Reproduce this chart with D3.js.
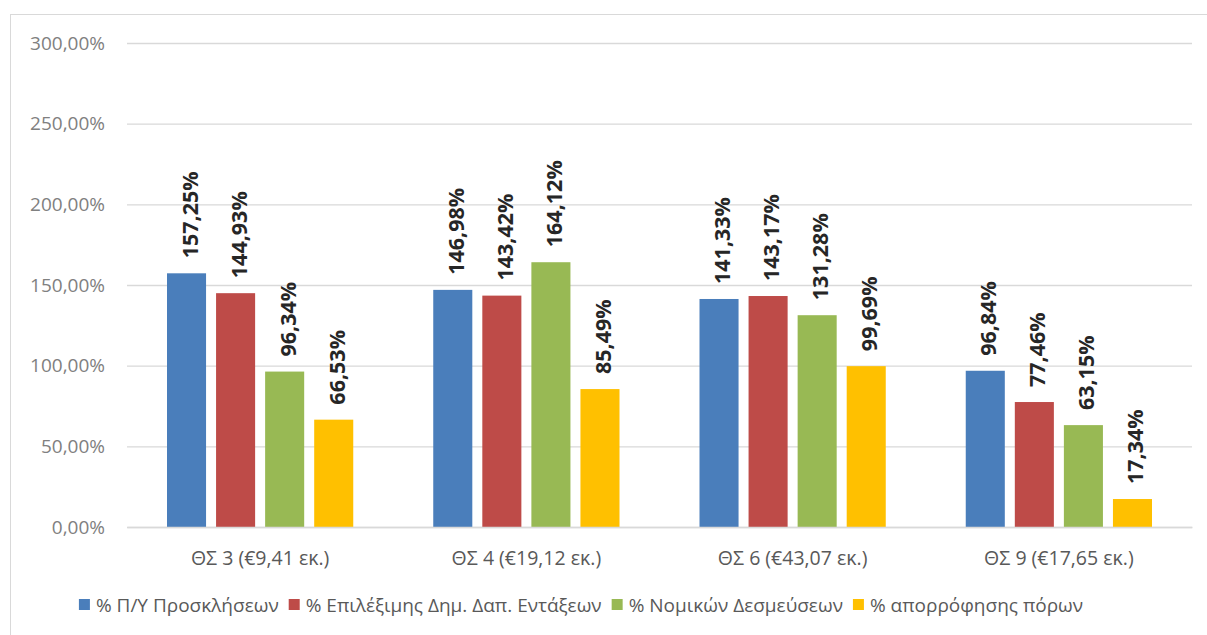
<!DOCTYPE html>
<html><head><meta charset="utf-8">
<script src="https://cdn.jsdelivr.net/npm/d3@7"></script>
<style>body{margin:0;background:#fff}svg{display:block}</style>
</head><body>
<svg id="c" width="1207" height="635"></svg>
<script>
const categories = ["ΘΣ 3 (€9,41 εκ.)", "ΘΣ 4 (€19,12 εκ.)", "ΘΣ 6 (€43,07 εκ.)", "ΘΣ 9 (€17,65 εκ.)"];
const seriesNames = ["% Π/Υ Προσκλήσεων", "% Επιλέξιμης Δημ. Δαπ. Εντάξεων", "% Νομικών Δεσμεύσεων", "% απορρόφησης πόρων"];
const seriesColors = ["#4a7ebb", "#be4b48", "#98b954", "#ffc000"];
const s1 = [157.25, 146.98, 141.33, 96.84];
const s2 = [144.93, 143.42, 143.17, 77.46];
const s3 = [96.34, 164.12, 131.28, 63.15];
const s4 = [66.53, 85.49, 99.69, 17.34];
const yTicks = [0, 50, 100, 150, 200, 250, 300];

const series = [s1, s2, s3, s4];
const fmt = v => v.toFixed(2).replace(".", ",");
const svg = d3.select("#c");
const font = "'Open Sans', 'Noto Sans', sans-serif";

svg.append("rect").attr("x", 10.5).attr("y", 14.5).attr("width", 1210).attr("height", 640)
  .attr("fill", "#fff").attr("stroke", "#d9d9d9");

const pLeft = 127, pRight = 1192, pTop = 43, pBottom = 527;
const x = d3.scaleBand().domain(categories).range([pLeft, pRight]).paddingInner(0).paddingOuter(0);
const y = d3.scaleLinear().domain([0, 300]).range([pBottom, pTop]);
const xs = d3.scaleBand().domain(d3.range(4)).range([40, x.bandwidth() - 40]).paddingInner(0.204).paddingOuter(0);

// gridlines
const yAxis = d3.axisLeft(y).tickValues(yTicks).tickSize(-(pRight - pLeft)).tickFormat(d => fmt(d) + "%").tickPadding(22);
const ga = svg.append("g").attr("transform", `translate(${pLeft},0)`).call(yAxis);
ga.select(".domain").remove();
ga.selectAll(".tick line").attr("stroke", "#d9d9d9").attr("stroke-width", 1.3);
ga.selectAll(".tick text").attr("fill", "#808080").style("font-family", font).style("font-size", "19px");

// bars
const g = svg.append("g");
categories.forEach((c, ci) => {
  series.forEach((s, si) => {
    const bx = x(c) + xs(si);
    g.append("rect").attr("x", bx).attr("width", xs.bandwidth())
      .attr("y", y(s[ci])).attr("height", y(0) - y(s[ci])).attr("fill", seriesColors[si]);
    g.append("text")
      .attr("transform", `translate(${bx + xs.bandwidth() / 2 + 11},${y(s[ci]) - 15}) rotate(-90)`)
      .attr("text-anchor", "start")
      .style("font-family", font).style("font-size", "21.5px").style("font-weight", "bold")
      .attr("fill", "#262626").text(fmt(s[ci]) + "%");
  });
});

// x labels
const xAxis = d3.axisBottom(x).tickSize(0).tickPadding(24);
const gx = svg.append("g").attr("transform", `translate(0,${pBottom})`).call(xAxis);
gx.select(".domain").attr("stroke", "#d9d9d9").attr("stroke-width", 1.3);
gx.selectAll(".tick text").attr("fill", "#595959").style("font-family", font).style("font-size", "19.5px");

// legend
const lg = svg.append("g");
const items = [];
seriesNames.forEach((n, i) => {
  const it = lg.append("g");
  it.append("rect").attr("x", 0).attr("y", -6).attr("width", 11).attr("height", 11).attr("fill", seriesColors[i]);
  const t = it.append("text").attr("x", 17).attr("y", 0).attr("dy", "0.35em")
    .style("font-family", font).style("font-size", "19px").attr("fill", "#595959").text(n);
  items.push({it, w: 17 + t.node().getComputedTextLength()});
});
const gap = 10;
const total = d3.sum(items, d => d.w) + gap * (items.length - 1);
let lx = 581 - total / 2;
items.forEach(d => { d.it.attr("transform", `translate(${lx},605)`); lx += d.w + gap; });
</script>
</body></html>
